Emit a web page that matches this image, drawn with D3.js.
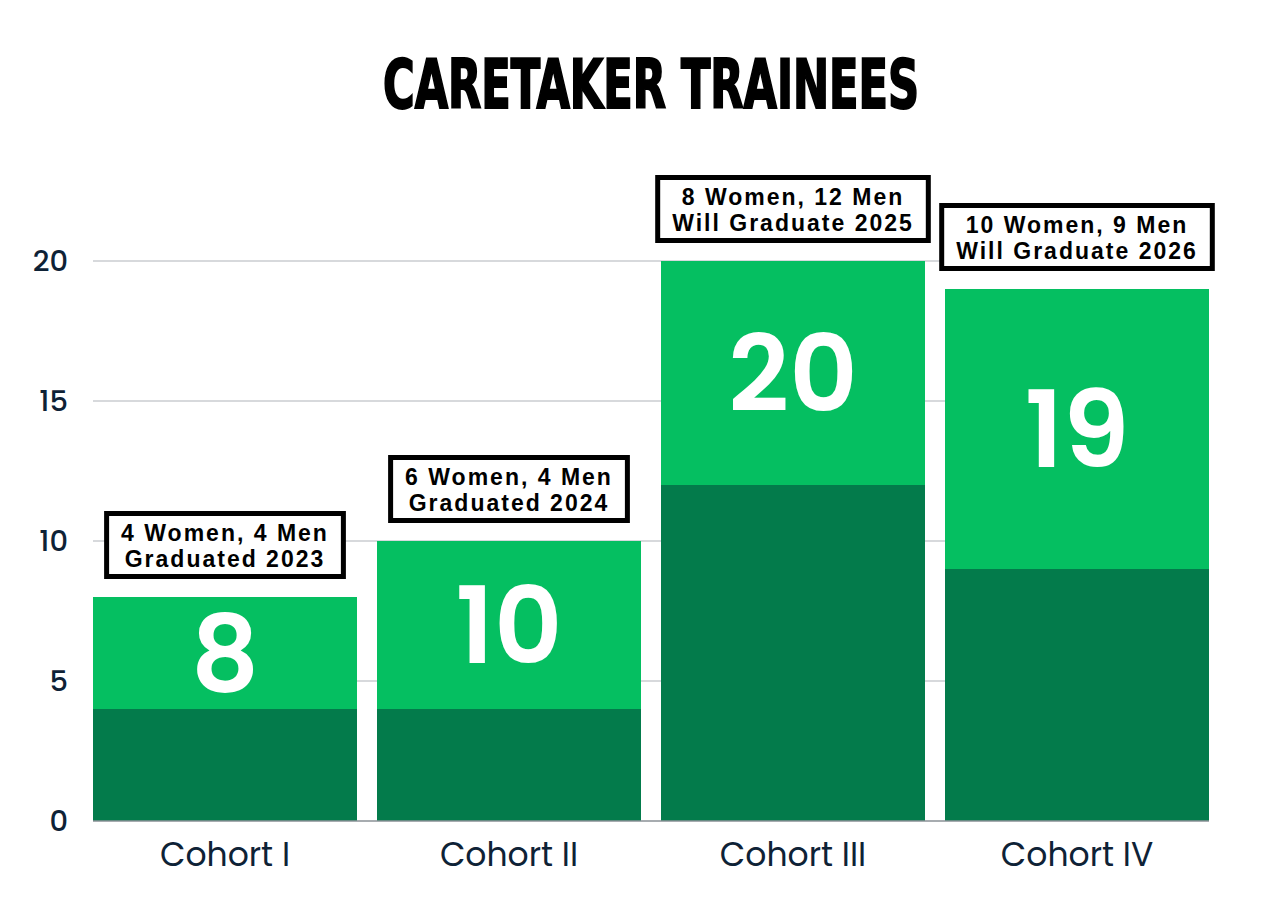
<!DOCTYPE html>
<html>
<head>
<meta charset="utf-8">
<script src="https://cdn.jsdelivr.net/npm/d3@7"></script>
<style>
  body { margin: 0; background: #fff; }
</style>
</head>
<body>
<div id="chart"></div>
<script>
// data
const cohorts = ["Cohort I", "Cohort II", "Cohort III", "Cohort IV"];
const men = [4, 4, 12, 9];
const women = [4, 6, 8, 10];
const noteLine1 = ["4 Women, 4 Men", "6 Women, 4 Men", "8 Women, 12 Men", "10 Women, 9 Men"];
const noteLine2 = ["Graduated 2023", "Graduated 2024", "Will Graduate 2025", "Will Graduate 2026"];
const yTicks = [0, 5, 10, 15, 20];

const W = 1286, H = 916;
const margin = {top: 261, right: 77, bottom: 95, left: 93};
const width = W - margin.left - margin.right;
const height = H - margin.top - margin.bottom;

const svg = d3.select("#chart").append("svg")
    .attr("width", W)
    .attr("height", H);

// title
svg.append("text")
    .attr("x", 651).attr("y", 108)
    .attr("text-anchor", "middle")
    .attr("font-family", "'Liberation Sans Narrow', 'DejaVu Sans Condensed', sans-serif")
    .attr("font-weight", 700)
    .attr("font-size", 67)
    .attr("textLength", 536)
    .attr("lengthAdjust", "spacingAndGlyphs")
    .attr("fill", "#000")
    .attr("stroke", "#000")
    .attr("stroke-width", 2)
    .text("CARETAKER TRAINEES");

const g = svg.append("g")
    .attr("transform", `translate(${margin.left},${margin.top})`);

const x = d3.scaleBand()
    .domain(cohorts)
    .range([0, width])
    .paddingInner(20 / 284)
    .paddingOuter(0);

const y = d3.scaleLinear()
    .domain([0, 20])
    .range([height, 0]);

// gridlines
g.selectAll(".grid")
    .data(yTicks.slice(1))
    .join("line")
    .attr("x1", 0).attr("x2", width)
    .attr("y1", d => y(d)).attr("y2", d => y(d))
    .attr("stroke", "#cacdd1")
    .attr("stroke-width", 1.3);

// y axis labels
const yAxis = d3.axisLeft(y).tickValues(yTicks).tickSize(0).tickPadding(25);
g.append("g").call(yAxis)
    .call(a => a.select(".domain").remove())
    .selectAll("text")
    .attr("font-family", "'Poppins', 'Open Sans', sans-serif")
    .attr("font-weight", 500)
    .attr("font-size", 29)
    .attr("fill", "#0e2236");

const rows = cohorts.map((c, i) => ({c, men: men[i], women: women[i], total: men[i] + women[i], l1: noteLine1[i], l2: noteLine2[i]}));

// men (bottom)
g.selectAll(".men")
    .data(rows)
    .join("rect")
    .attr("x", d => x(d.c))
    .attr("width", x.bandwidth())
    .attr("y", d => y(d.men))
    .attr("height", d => y(0) - y(d.men))
    .attr("fill", "#037b4b");

// women (top)
g.selectAll(".women")
    .data(rows)
    .join("rect")
    .attr("x", d => x(d.c))
    .attr("width", x.bandwidth())
    .attr("y", d => y(d.total))
    .attr("height", d => y(d.men) - y(d.total))
    .attr("fill", "#05bf61");

// baseline
g.append("line")
    .attr("x1", 0).attr("x2", width)
    .attr("y1", y(0)).attr("y2", y(0))
    .attr("stroke", "#8a9096")
    .attr("stroke-width", 1.5);

// totals
g.selectAll(".total")
    .data(rows)
    .join("text")
    .attr("x", d => x(d.c) + x.bandwidth() / 2)
    .attr("y", d => (y(d.total) + y(d.men)) / 2)
    .attr("dy", "0.36em")
    .attr("text-anchor", "middle")
    .attr("font-family", "'Poppins', 'Open Sans', sans-serif")
    .attr("font-weight", 600)
    .attr("font-size", 106)
    .attr("fill", "#fff")
    .text(d => d.total);

// x axis labels
g.selectAll(".xlab")
    .data(rows)
    .join("text")
    .attr("x", d => x(d.c) + x.bandwidth() / 2)
    .attr("y", height + 45)
    .attr("text-anchor", "middle")
    .attr("font-family", "'Poppins', 'Open Sans', sans-serif")
    .attr("font-weight", 400)
    .attr("font-size", 33)
    .attr("fill", "#0e2236")
    .text(d => d.c);

// note boxes above bars
const notes = g.selectAll(".note")
    .data(rows)
    .join("g")
    .attr("transform", d => `translate(${x(d.c) + x.bandwidth() / 2},${y(d.total) - 18})`);

const noteRect = notes.append("rect")
    .attr("fill", "#fff")
    .attr("stroke", "#000")
    .attr("stroke-width", 5);

const noteText = notes.append("text")
    .attr("text-anchor", "middle")
    .attr("font-family", "'Liberation Sans', Arial, sans-serif")
    .attr("font-weight", 700)
    .attr("font-size", 23)
    .attr("letter-spacing", 2)
    .attr("fill", "#000");
noteText.append("tspan").attr("x", 0).attr("y", -38).text(d => d.l1);
noteText.append("tspan").attr("x", 0).attr("y", -12).text(d => d.l2);

noteText.each(function(d, i) {
    const bb = this.getBBox();
    const w = bb.width + 34;
    d3.select(noteRect.nodes()[i])
        .attr("x", -w / 2 + 2.5)
        .attr("y", -65.5)
        .attr("width", w - 5)
        .attr("height", 63);
});
</script>
</body>
</html>
